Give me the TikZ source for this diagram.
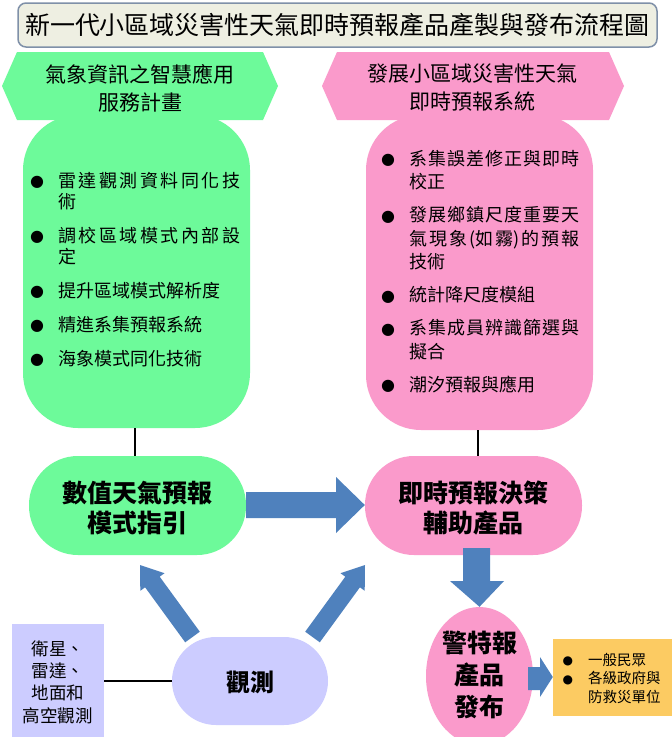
\documentclass[tikz,border=0pt]{standalone}
\usepackage{fontspec}
\setmainfont{Noto Sans CJK TC}
\newfontfamily\symfont{DejaVu Sans}
\XeTeXlinebreaklocale "zh"
\XeTeXlinebreakskip=0pt plus 4pt
\usetikzlibrary{shapes.geometric}
\definecolor{gfill}{HTML}{6DFA9A}
\definecolor{pfill}{HTML}{FA9ACB}
\definecolor{lfill}{HTML}{CCCCFF}
\definecolor{ofill}{HTML}{FCCB62}
\definecolor{ablue}{HTML}{4F81BD}
\definecolor{tfill}{HTML}{EEEFE2}
\definecolor{tborder}{HTML}{7F90A8}
\newcommand\bulA{\noindent\llap{\raisebox{0.5pt}{\symfont\fontsize{16}{16}\selectfont ●}\hspace{14pt}}}
\newcommand\bulB{\noindent\llap{\raisebox{0.5pt}{\symfont\fontsize{12}{12}\selectfont ●}\hspace{15pt}}}
\begin{document}
\begin{tikzpicture}[x=1pt,y=-1pt,
  conn/.style={line width=2pt, black},
  blockarrow/.style={fill=ablue},
  body/.style={rounded corners=55pt, inner sep=0pt, minimum width=227pt},
  pill/.style={inner sep=0pt, rounded corners=49pt, minimum width=217pt, minimum height=99pt},
  pilltext/.style={inner sep=0pt, align=center, font=\bfseries\fontsize{25}{30}\selectfont},
  hextext/.style={inner sep=0pt, align=center, font=\fontsize{21}{28}\selectfont},
  listtext/.style={anchor=north west, inner sep=0pt, align=justify, font=\fontsize{18}{21}\selectfont}
]
\useasboundingbox (0,0) rectangle (672,737);
\clip (0,0) rectangle (672,737);
\fill[white] (0,0) rectangle (672,737);

% title
\node[draw=tborder, line width=1.5pt, fill=tfill, rounded corners=8pt, minimum width=639pt, minimum height=44pt, inner sep=0pt, font=\fontsize{25}{30}\selectfont] (title) at (337.5,25) {新一代小區域災害性天氣即時預報產品產製與發布流程圖};

% bodies
\node[body, fill=gfill, minimum height=313pt] (gbody) at (136.5,271.5) {};
\node[body, fill=pfill, minimum height=315pt] (pbody) at (479.5,272.5) {};

% hexagon banners
\fill[gfill] (2,86) -- (17,52) -- (263,52) -- (278,86) -- (263,120) -- (17,120) -- cycle;
\fill[pfill] (322,86) -- (337,52) -- (609,52) -- (624,86) -- (609,120) -- (337,120) -- cycle;
\node[hextext] (ghead) at (140,88.5) {氣象資訊之智慧應用\\服務計畫};
\node[hextext] (phead) at (472.5,87.5) {發展小區域災害性天氣\\即時預報系統};

% lists
\node[listtext, text width=202pt] (glist) at (38,172) {\leftskip=20pt\parskip=13pt
\bulA 雷達觀測資料同化技\linebreak 術\par
\bulA 調校區域模式內部設\linebreak 定\par
\bulA 提升區域模式解析度\par
\bulA 精進系集預報系統\par
\bulA 海象模式同化技術\par};
\node[listtext, text width=190pt, font=\fontsize{18}{23.5}\selectfont] (plist) at (389,150) {\leftskip=20pt\parskip=9.5pt
\bulA 系集誤差修正與即時\linebreak 校正\par
\bulA 發展鄉鎮尺度重要天\linebreak 氣現象(如霧)的預報\linebreak 技術\par
\bulA 統計降尺度模組\par
\bulA 系集成員辨識篩選與\linebreak 擬合\par
\bulA 潮汐預報與應用\par};

% pills
\node[pill, fill=gfill] (gpill) at (137.5,505.5) {};
\node[pilltext] (gpilltext) at (137.5,508) {數值天氣預報\\模式指引};
\node[pill, fill=pfill] (ppill) at (473.5,505.5) {};
\node[pilltext] (ppilltext) at (473.5,508) {即時預報決策\\輔助產品};

\draw[conn] (gbody.south -| 135,0) -- (gpill.north -| 135,0);
\draw[conn] (pbody.south -| 478,0) -- (ppill.north -| 478,0);

% observation
\node[fill=lfill, minimum width=92pt, minimum height=121pt, inner sep=0pt] (obsbox) at (58,684.5) {};
\node[inner sep=0pt, align=center, font=\fontsize{17.5}{22.3}\selectfont] (obsboxtext) at (58,682) {衛星、\\雷達、\\地面和\\高空觀測};
\node[fill=lfill, rounded corners=44pt, minimum width=156pt, minimum height=88pt, inner sep=0pt] (obs) at (250,681) {};
\node[inner sep=0pt, font=\bfseries\fontsize{24}{28}\selectfont] (obstext) at (250,682) {觀測};
\draw[line width=2.5pt] (obsbox.east |- obs.west) -- (obs.west);

% warning ellipse
\node[ellipse, fill=pfill, minimum width=107pt, minimum height=138pt, inner sep=0pt] (warn) at (479.5,676) {};
\node[pilltext, font=\bfseries\fontsize{25}{32}\selectfont] (warntext) at (479.5,675) {警特報\\產品\\發布};

% audience
\node[fill=ofill, minimum width=119pt, minimum height=77pt, inner sep=0pt] (aud) at (612.5,677.5) {};
\node[anchor=north west, inner sep=0pt, text width=100pt, align=left, font=\fontsize{14.5}{18.5}\selectfont] (audtext) at (567,653) {\leftskip=21pt\parskip=0pt
\bulB 一般民眾\par
\bulB 各級政府與\newline 防救災單位\par};

% block arrows
\fill[blockarrow] (gpill.east |- 0,492) -- (336,492) -- (336,477) -- (ppill.west |- 0,505) -- (336,533) -- (336,518) -- (gpill.east |- 0,518) -- cycle;
\fill[blockarrow] (463,548) -- (490,548) -- (490,581) -- (504,581) -- (warn.north) -- (450,581) -- (463,581) -- cycle;
\fill[blockarrow] (528,667) -- (540,667) -- (540,657) -- (aud.west |- 0,677) -- (540,697) -- (540,690) -- (528,690) -- cycle;
\fill[blockarrow] (199.8,631.7) -- (159.7,576.7) -- (164.5,573.2) -- (140,565) -- (140.3,590.8) -- (145.1,587.3) -- (185.2,642.3) -- cycle;
\fill[blockarrow] (305.2,631.7) -- (345.3,576.7) -- (340.5,573.2) -- (365,565) -- (364.7,590.8) -- (359.9,587.3) -- (319.8,642.3) -- cycle;
\end{tikzpicture}
\end{document}
